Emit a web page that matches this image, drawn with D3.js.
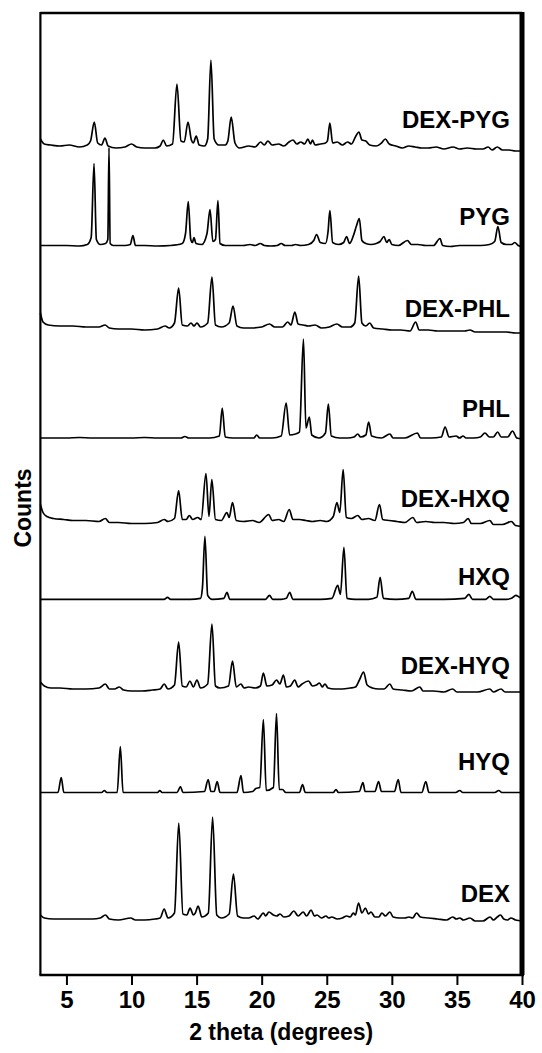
<!DOCTYPE html>
<html>
<head>
<meta charset="utf-8">
<script src="https://cdn.jsdelivr.net/npm/d3@7"></script>
<style>
  html, body { margin: 0; padding: 0; background: #fff; }
  svg { display: block; }
  text { font-family: "Liberation Sans", Arial, sans-serif; font-weight: bold; fill: #000; }
</style>
</head>
<body>
<div id="chart"></div>
<script>
// ---------------- DATA ----------------
const xTickValues = [5, 10, 15, 20, 25, 30, 35, 40];
const xTitle = "2 theta (degrees)";
const yTitle = "Counts";

const seriesNames = ["DEX-PYG", "PYG", "DEX-PHL", "PHL", "DEX-HXQ", "HXQ", "DEX-HYQ", "HYQ", "DEX"];
// vertical offsets of each pattern (counts)
const offsets = [828, 729.5, 646, 537, 452.5, 375.7, 285, 182.5, 56];

// [2theta, counts above its own offset]
const dexPyg = [[3,8],[3.3,3],[3.8,2],[4.5,1],[5.2,2],[6,0],[6.6,2],[6.85,6],[7.14,25],[7.4,4],[7.7,2],[7.96,9],[8.2,1],[8.8,-1],[9.5,0],[10.0,3],[10.4,0],[11,-1],[11.8,-1],[12.2,1],[12.44,7],[12.7,1],[13.15,3],[13.49,63],[13.8,6],[14.05,5],[14.34,25],[14.6,7],[14.75,4],[14.97,11],[15.2,2],[15.6,1],[15.85,8],[16.1,87],[16.35,8],[16.7,2],[17.2,2],[17.4,6],[17.66,30],[17.95,4],[18.3,-1],[19,1],[19.5,0],[19.92,5],[20.2,2],[20.48,6],[20.8,2],[21.3,3],[21.7,1],[22.1,5],[22.4,7],[22.7,3],[23.0,5],[23.3,3],[23.55,8],[23.75,3],[23.9,7],[24.1,2],[24.5,3],[24.9,4],[25.05,6],[25.24,24],[25.45,4],[25.8,5],[26.2,2],[26.6,5],[26.9,3],[27.2,10],[27.47,15],[27.7,7],[28.0,6],[28.3,2],[28.8,1],[29.2,4],[29.5,8],[29.8,3],[30.3,1],[30.8,-1],[31.3,1],[31.8,0],[32.3,-1],[32.8,-1],[33.4,0],[34.0,-2],[34.7,0],[35.2,-2],[35.8,-1],[36.5,-2],[37.0,-2],[37.4,0],[37.7,-3],[38.1,0],[38.5,-3],[39.0,-3],[39.5,-4],[40,-4]];

const pyg = [[3,0],[4,0],[5,0],[6,-0.5],[6.6,1],[6.9,8],[7.12,82],[7.3,6],[7.6,1],[8.0,2],[8.18,6],[8.27,98],[8.36,2],[8.6,0],[9.5,0],[9.9,1],[10.11,10],[10.3,0],[11,0],[12,-0.5],[13,0],[13.9,2],[14.15,12],[14.36,44],[14.55,6],[14.68,3],[14.8,8],[14.95,2],[15.4,1],[15.8,12],[16.03,36],[16.25,4],[16.45,6],[16.64,45],[16.8,2],[17.2,0],[18,0],[18.6,0],[19.1,1],[19.5,0],[19.9,2],[20.2,0],[20.7,-0.5],[21.2,0],[21.5,2],[21.8,0],[22.3,0],[22.6,1],[23,0],[23.6,1],[24.0,5],[24.22,11],[24.5,3],[24.9,2],[25.1,14],[25.24,35],[25.45,3],[25.9,1],[26.3,3],[26.52,9],[26.75,2],[27.05,10],[27.29,20],[27.5,27],[27.7,5],[28.0,2],[28.4,1],[28.8,2],[29.1,4],[29.4,9],[29.6,3],[29.8,6],[30.0,1],[30.5,0],[31.2,5],[31.5,1],[32,1],[32.6,0],[33.2,0],[33.7,7],[33.9,0],[34.5,-1],[35.2,0],[36,0],[36.8,0],[37.5,1],[37.9,4],[38.15,19],[38.4,3],[38.8,1],[39.2,1],[39.45,3],[39.7,0],[40,-1]];

const dexPhl = [[3,16],[3.2,7],[3.6,4],[4.5,3],[5.5,3],[6.5,2],[7.5,2],[7.97,4],[8.3,1],[9,0],[10,0],[11,-1],[12,0],[12.58,3],[12.9,1],[13.3,6],[13.62,41],[13.9,4],[14.3,3],[14.57,6],[14.8,3],[15.03,6],[15.3,2],[15.85,6],[16.18,52],[16.45,4],[16.9,2],[17.5,6],[17.8,23],[18.1,3],[18.6,1],[19.2,1],[20.0,2],[20.6,5],[21.0,2],[21.6,2],[22.0,7],[22.25,4],[22.55,17],[22.8,5],[23.2,4],[23.6,3],[24.1,4],[24.6,1],[25.2,2],[25.78,5],[26.2,2],[26.8,2],[27.15,6],[27.45,53],[27.7,6],[28.0,3],[28.3,6],[28.6,1],[29.3,0],[30,-1],[30.7,-1],[31.4,-2],[31.83,7],[32.1,-1],[32.8,-1],[33.5,-2],[34.2,-2],[35.0,-2],[35.6,-2],[36.0,-1],[36.4,-3],[37.2,-3],[38.0,-3],[38.8,-3],[39.5,-4],[40,-4]];

const phl = [[3,0],[4,0],[5,0],[6,0.5],[7,0],[8,0],[9,0],[10,0],[11,0.5],[12,0],[13,0],[13.8,0],[14.1,1.5],[14.4,0],[15,0],[16,0],[16.75,2],[16.97,30],[17.2,1],[17.8,0],[18.5,0],[19.4,0],[19.62,3],[19.85,0],[20.8,0],[21.5,2],[21.88,35],[22.15,3],[22.6,4],[22.9,6],[23.21,99],[23.4,10],[23.66,21],[23.85,3],[24.4,0],[24.9,5],[25.12,34],[25.35,2],[26,0],[26.6,0],[27.1,1],[27.38,4],[27.6,1],[28.0,3],[28.22,16],[28.45,2],[29.2,0],[29.85,4],[30.1,0],[31.0,0],[31.97,5],[32.2,0],[33.0,0],[33.8,1],[34.09,11],[34.4,1],[34.94,2],[35.2,0],[35.47,2],[35.7,0],[36.3,0],[36.8,1],[37.15,5],[37.5,1],[37.8,1],[38.13,6],[38.4,1],[38.9,1],[39.27,7],[39.6,0],[40,-1]];

const dexHxq = [[3,18],[3.2,10],[3.5,6],[4,4],[4.8,3],[5.5,2],[6.5,2],[7.5,1],[7.99,4],[8.3,0],[9,0],[10,-1],[11,-1],[12,0],[12.51,3],[12.8,1],[13.3,4],[13.62,32],[13.9,3],[14.2,3],[14.44,7],[14.7,3],[15.08,5],[15.35,3],[15.72,49],[15.95,6],[16.17,43],[16.45,3],[16.9,2],[17.33,10],[17.5,5],[17.76,20],[18.05,2],[18.6,1],[19.3,2],[19.8,0],[20.55,8],[20.8,2],[21.3,3],[21.7,1],[22.12,13],[22.4,3],[22.9,3],[23.4,2],[23.9,1],[24.5,2],[25.0,1],[25.5,6],[25.78,20],[26.0,10],[26.26,53],[26.5,5],[26.9,4],[27.38,7],[27.7,3],[28.2,4],[28.7,2],[29.05,18],[29.3,3],[29.8,2],[30.4,1],[31.0,0],[31.62,5],[31.9,0],[32.6,1],[33.3,0],[34.0,0],[34.8,-1],[35.5,0],[35.87,4],[36.1,-1],[36.8,-1],[37.53,2],[37.8,-2],[38.5,-2],[39.19,1],[39.5,-3],[40,-4]];

const hxq = [[3,0],[4,0],[5.5,0],[7,0],[8.5,0],[10,0],[11.5,0],[12.5,0],[12.77,2],[13.0,0],[14.5,0],[15.3,1],[15.45,12],[15.64,63],[15.85,4],[16.2,0],[17.1,1],[17.33,7],[17.55,0],[18.5,0],[19.5,0],[20.3,0],[20.6,4],[20.85,0],[21.5,0],[21.9,1],[22.15,7],[22.4,0],[23.5,0],[24.5,0],[25.4,1],[25.84,14],[26.05,5],[26.32,52],[26.55,1],[27.2,0],[28.2,0],[28.85,2],[29.1,22],[29.35,1],[30.3,0],[31.3,1],[31.57,8],[31.85,0],[33,0],[34,0],[35.6,1],[35.92,5],[36.2,0],[37.2,0],[37.53,3],[37.8,0],[38.8,0],[39.2,1],[39.53,4],[39.8,2],[40,1]];

const dexHyq = [[3,8],[3.3,4],[3.8,2],[4.5,2],[5.5,1],[6.5,1],[7.5,2],[7.99,6],[8.3,1],[8.7,1],[9.06,3],[9.4,0],[10,-1],[10.8,-1],[11.6,0],[12.2,1],[12.51,6],[12.8,1],[13.3,5],[13.62,48],[13.9,4],[14.2,3],[14.49,9],[14.75,3],[15.03,10],[15.3,2],[15.85,6],[16.18,66],[16.45,4],[16.8,2],[17.45,4],[17.76,29],[18.05,3],[18.4,6],[18.65,2],[19.0,3],[19.5,2],[19.9,4],[20.13,17],[20.4,4],[20.8,5],[21.14,10],[21.4,6],[21.67,15],[21.9,3],[22.2,4],[22.54,10],[22.8,3],[23.1,6],[23.6,9],[23.9,4],[24.2,5],[24.45,7],[24.65,3],[24.86,6],[25.1,2],[25.6,1],[26.2,1],[26.8,2],[27.2,3],[27.51,10],[27.83,18],[28.1,5],[28.5,2],[29.0,1],[29.4,1],[29.85,6],[30.1,1],[30.8,0],[31.5,-1],[32.15,3],[32.4,-1],[33.2,-1],[34.0,-2],[34.67,1],[35.0,-2],[35.8,-2],[36.6,-2],[37.53,1],[37.8,-2],[38.39,1],[38.7,-2],[39.4,-2],[40,-2]];

const hyq = [[3,0],[4.35,0],[4.6,15],[4.8,0],[6,0],[7.7,0],[7.92,2],[8.1,0],[8.9,0],[9.14,46],[9.35,0],[11,0],[12.0,0],[12.17,2],[12.35,0],[13.5,0],[13.76,6],[13.95,0],[15.6,1],[15.89,13],[16.1,1],[16.35,1],[16.58,11],[16.8,0],[18.1,0],[18.41,17],[18.6,0],[19.3,1],[19.55,4],[19.85,5],[20.13,73],[20.35,2],[20.9,5],[21.14,79],[21.35,3],[21.6,3],[21.85,0],[22.9,0],[23.14,8],[23.35,0],[25.5,0],[25.71,3],[25.9,0],[27.5,1],[27.78,10],[27.95,1],[28.7,1],[28.98,11],[29.2,1],[30.2,1],[30.49,13],[30.7,0],[32.3,0],[32.61,11],[32.85,0],[34.9,0],[35.22,2],[35.45,0],[37.9,0],[38.22,2],[38.45,0],[40,0]];

const dex = [[3,4],[3.3,1],[4,0],[5,0],[6,0],[7,0],[7.6,1],[8.0,4],[8.3,0],[9.0,-1],[9.94,1],[10.3,-1],[11,-1],[11.8,0],[12.2,1],[12.51,10],[12.8,1],[13.3,6],[13.63,96],[13.95,5],[14.25,4],[14.5,11],[14.75,4],[14.9,6],[15.12,13],[15.4,2],[15.9,6],[16.23,102],[16.55,4],[16.9,1],[17.5,5],[17.83,45],[18.15,3],[18.6,1],[19.0,1],[19.42,3],[19.7,0],[20.13,6],[20.3,3],[20.56,7],[20.9,4],[21.15,3],[21.41,5],[21.7,2],[22.1,3],[22.47,8],[22.8,3],[23.19,7],[23.45,3],[23.8,9],[24.05,3],[24.25,4],[24.6,1],[24.94,3],[25.15,1],[25.39,2],[25.8,0],[26.2,1],[26.53,3],[26.8,2],[27.04,6],[27.2,4],[27.44,16],[27.7,6],[27.97,11],[28.2,5],[28.4,7],[28.7,2],[29.0,2],[29.24,6],[29.5,3],[29.85,7],[30.1,2],[30.6,1],[31.0,1],[31.31,2],[31.6,1],[31.9,6],[32.2,2],[32.8,1],[33.5,0],[34.2,-1],[34.68,2],[34.95,0],[35.22,1],[35.5,-1],[36.0,1],[36.4,-2],[37.0,-2],[37.55,2],[37.8,-1],[38.1,2],[38.35,4],[38.6,0],[38.9,-1],[39.15,1],[39.5,-1],[40,-2]];

const seriesData = [dexPyg, pyg, dexPhl, phl, dexHxq, hxq, dexHyq, hyq, dex];

// ---------------- LAYOUT ----------------
const W = 542, H = 1053;
const plot = { left: 40.4, right: 522, top: 13, bottom: 975 };
const labelLift = [19, 20.5, 12, 21, 16, 14.5, 16, 23, 17];
const labelX = 510;
const labelFont = 24;
const tickFont = 24;
const titleFont = 23;

const svg = d3.select("#chart").append("svg").attr("width", W).attr("height", H);

const x = d3.scaleLinear().domain([3, 40]).range([plot.left, plot.right]);
const y = d3.scaleLinear().domain([0, plot.bottom - plot.top]).range([plot.bottom, plot.top]);

const line = d3.line()
  .x(d => x(d[0]))
  .y(d => y(d[1]))
  .curve(d3.curveMonotoneX);

// traces
seriesData.forEach((data, i) => {
  const off = offsets[i];
  svg.append("path")
    .datum(data.map(d => [d[0], d[1] + off]))
    .attr("d", line)
    .attr("fill", "none")
    .attr("stroke", "#000")
    .attr("stroke-width", 1.7)
    .attr("stroke-linejoin", "round");
  svg.append("text")
    .attr("x", labelX)
    .attr("y", y(off) - labelLift[i])
    .attr("text-anchor", "end")
    .attr("font-size", labelFont)
    .text(seriesNames[i]);
});

// frame
svg.append("line").attr("x1", plot.left).attr("x2", plot.right).attr("y1", plot.top).attr("y2", plot.top)
  .attr("stroke", "#000").attr("stroke-width", 2.5);
svg.append("line").attr("x1", plot.right).attr("x2", plot.right).attr("y1", plot.top - 1).attr("y2", plot.bottom)
  .attr("stroke", "#000").attr("stroke-width", 5);
svg.append("line").attr("x1", plot.left).attr("x2", plot.left).attr("y1", plot.top - 1).attr("y2", plot.bottom)
  .attr("stroke", "#000").attr("stroke-width", 2.2);

// x axis
const xAxis = d3.axisBottom(x).tickValues(xTickValues).tickSize(10).tickSizeOuter(0).tickPadding(6);
const gx = svg.append("g").attr("transform", `translate(0,${plot.bottom})`).call(xAxis);
gx.select(".domain").attr("stroke", "#000").attr("stroke-width", 2.4)
  .attr("d", `M${plot.left - 1},0H${plot.right + 2}`);
gx.selectAll(".tick line").attr("stroke", "#000").attr("stroke-width", 2);
gx.selectAll(".tick text")
  .attr("font-size", tickFont)
  .attr("font-family", "'Liberation Sans', Arial, sans-serif")
  .attr("font-weight", "bold")
  .attr("fill", "#000");

// axis titles
svg.append("text")
  .attr("x", (plot.left + plot.right) / 2)
  .attr("y", 1040)
  .attr("text-anchor", "middle")
  .attr("font-size", titleFont)
  .text(xTitle);

svg.append("text")
  .attr("transform", "translate(31,508) rotate(-90)")
  .attr("text-anchor", "middle")
  .attr("font-size", titleFont)
  .text(yTitle);
</script>
</body>
</html>
